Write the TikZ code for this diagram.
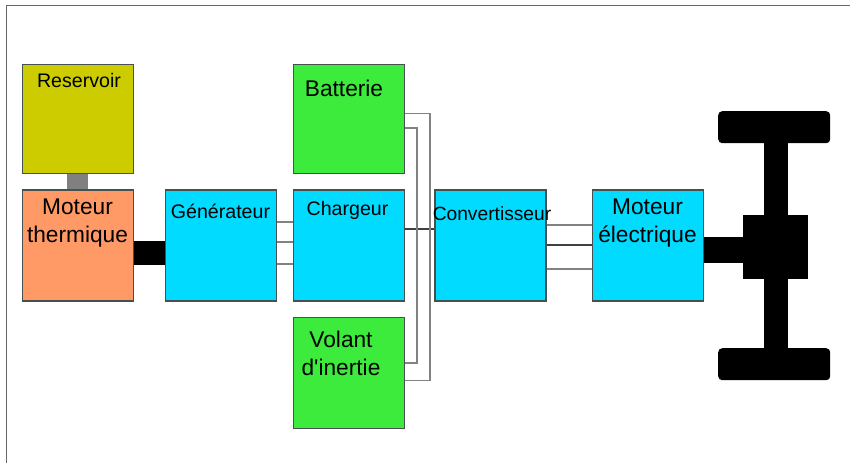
\documentclass[tikz,border=0pt]{standalone}
\usepackage{fontspec}
\setmainfont{Liberation Sans}
\usetikzlibrary{positioning}
\definecolor{tankfill}{RGB}{204,204,0}
\definecolor{enginefill}{RGB}{255,153,102}
\definecolor{powerfill}{RGB}{0,219,255}
\definecolor{storefill}{RGB}{60,235,60}
\definecolor{edgegray}{RGB}{70,80,80}
\definecolor{wiregray}{RGB}{130,130,130}
\definecolor{linkgray}{RGB}{128,128,128}
\tikzset{
  block/.style={
    draw=edgegray,
    line width=1.5pt,
    minimum width=111pt,
    minimum height=111pt,
    inner sep=0pt
  },
  tank/.style={block,fill=tankfill,minimum height=109pt},
  engine/.style={block,fill=enginefill},
  power/.style={block,fill=powerfill},
  store/.style={block,fill=storefill},
  wheel/.style={
    fill=black,
    rounded corners=4pt,
    minimum width=112pt,
    minimum height=32pt,
    inner sep=0pt
  },
  hub/.style={fill=black,minimum width=65pt,minimum height=64pt,inner sep=0pt},
  big/.style={font=\fontsize{22.7}{28}\selectfont,align=center,text=black,inner sep=0pt},
  mid/.style={font=\fontsize{19.6}{24}\selectfont,text=black,inner sep=0pt},
  small/.style={font=\fontsize{19.2}{22}\selectfont,text=black,inner sep=0pt},
  wire/.style={draw=wiregray,line width=1.4pt},
  darkwire/.style={draw=black!75,line width=1.5pt},
  shaft/.style={draw=black,line width=24pt},
  feed/.style={draw=linkgray,line width=21pt}
}
\begin{document}
\begin{tikzpicture}[x=1pt,y=-1pt]

  \useasboundingbox (0,0) rectangle (850,463);
  \draw[draw=black!60,line width=1pt] (6,463) -- (6,5) -- (850,5);

  \node[tank,anchor=north west] at (21.5,63.5) (reservoir) {};
  \node[engine,anchor=north west] at (21.5,189) (thermal) {};
  \node[power,anchor=north west] at (164.5,189) (generator) {};
  \node[power,anchor=north west] at (292.5,189) (charger) {};
  \node[store,minimum height=109pt,anchor=north west] at (292.5,63.5) (battery) {};
  \node[store,anchor=north west] at (292.5,316.5) (flywheel) {};
  \node[power,anchor=north west] at (434,189) (converter) {};
  \node[power,anchor=north west] at (591.5,189) (electric) {};

  \node[wheel,anchor=north west] at (718,111) (wheeltop) {};
  \node[wheel,anchor=north west] at (718,348) (wheelbottom) {};
  \node[hub,anchor=north west] at (743,215) (diff) {};

  \draw[feed] (reservoir.south -| 77.5,0) -- (thermal.north -| 77.5,0);
  \draw[shaft] (thermal.east |- 0,253) -- (generator.west |- 0,253);
  \draw[draw=black,line width=26pt] (electric.east |- 0,250) -- (diff.west |- 0,250);
  \draw[draw=black,line width=24pt] (wheeltop.south -| 776,0) -- (wheelbottom.north -| 776,0);

  \draw[wire] (generator.east |- 0,222) -- (charger.west |- 0,222);
  \draw[wire] (generator.east |- 0,242) -- (charger.west |- 0,242);
  \draw[wire] (generator.east |- 0,264) -- (charger.west |- 0,264);
  \draw[darkwire] (charger.east |- 0,229) -- (converter.west |- 0,229);
  \draw[wire] (battery.east |- 0,113.5) -- (430,113.5) -- (430,380.5) -- (flywheel.east |- 0,380.5);
  \draw[wire] (battery.east |- 0,128) -- (417,128) -- (417,363) -- (flywheel.east |- 0,363);
  \draw[wire] (converter.east |- 0,225) -- (electric.west |- 0,225);
  \draw[darkwire] (converter.east |- 0,245) -- (electric.west |- 0,245);
  \draw[wire] (converter.east |- 0,269) -- (electric.west |- 0,269);

  \node[mid] at (79,80) (reservoirtext) {Reservoir};
  \node[big] at (77.5,223.5) (thermaltext) {Moteur\\thermique};
  \node[mid] at (220.5,211.5) (generatortext) {Générateur};
  \node[mid] at (347.5,210.5) (chargertext) {Chargeur};
  \node[big] at (344,88) (batterytext) {Batterie};
  \node[big] at (341,353.5) (flywheeltext) {Volant\\d\textquotesingle inertie};
  \node[small] at (492,213.5) (convertertext) {Convertisseur};
  \node[big] at (647.5,223.5) (electrictext) {Moteur\\électrique};

\end{tikzpicture}
\end{document}
